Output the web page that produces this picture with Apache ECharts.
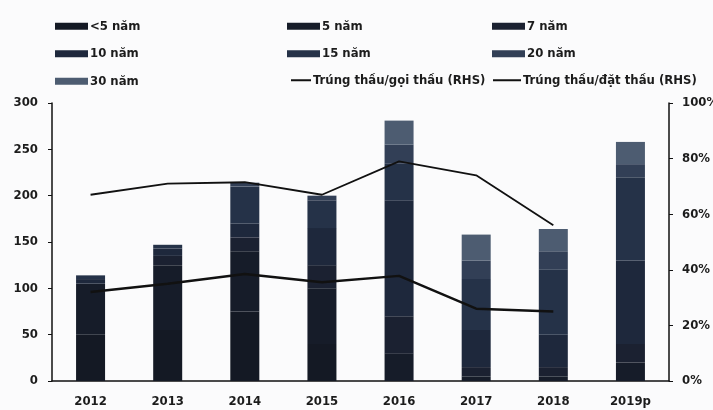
<!DOCTYPE html>
<html>
<head>
<meta charset="utf-8">
<script src="https://cdn.jsdelivr.net/npm/echarts@6/dist/echarts.min.js"></script>
<style>
  html, body { margin: 0; padding: 0; background: #fbfbfc; }
  #chart { width: 713px; height: 410px; }
</style>
</head>
<body>
<div id="chart"></div>
<script>
// Years on the category axis
const years = ['2012', '2013', '2014', '2015', '2016', '2017', '2018', '2019p'];

// Issued volume by tenor (left axis)
const lt5Nam  = [50, 55, 75, 40, 0, 0, 0, 0];
const nam5    = [55, 70, 65, 60, 30, 5, 5, 20];
const nam7    = [0, 10, 15, 25, 40, 10, 10, 20];
const nam10   = [5, 8, 15, 40, 125, 40, 35, 90];
const nam15   = [4, 4, 40, 30, 40, 55, 70, 90];
const nam20   = [0, 0, 4, 5, 20, 20, 20, 14];
const nam30   = [0, 0, 0, 0, 26, 28, 24, 24];

// Ratios in percent (right axis)
const trungGoiThau = [67, 71, 71.5, 67, 79, 74, 56, null];
const trungDatThau = [32, 35, 38.5, 35.5, 37.8, 26, 25, null];

// Axis tick settings
const leftTicks = { min: 0, max: 300, interval: 50 };
const rightTicks = { min: 0, max: 100, interval: 20 };

const FONT = "'Liberation Sans Narrow', 'DejaVu Sans Condensed', 'Liberation Sans', sans-serif";
const TEXT = '#1c1c1c';

const barSeries = [
  ['<5 năm', lt5Nam, '#141924'],
  ['5 năm', nam5, '#161c29'],
  ['7 năm', nam7, '#1b2131'],
  ['10 năm', nam10, '#1e283c'],
  ['15 năm', nam15, '#253248'],
  ['20 năm', nam20, '#323f56'],
  ['30 năm', nam30, '#4d5c71']
].map(([name, data, color]) => ({
  name, type: 'bar', stack: 'kl', data, barWidth: 29,
  itemStyle: { color }
}));

const lineSeries = [
  ['Trúng thầu/gọi thầu (RHS)', trungGoiThau, 1.8],
  ['Trúng thầu/đặt thầu (RHS)', trungDatThau, 2.4]
].map(([name, data, w]) => ({
  name, type: 'line', yAxisIndex: 1, data, symbol: 'none',
  lineStyle: { color: '#111', width: w }, itemStyle: { color: '#111' }
}));

const legendBase = {
  orient: 'vertical', top: 19, padding: 0, itemWidth: 33, itemHeight: 7, itemGap: 13,
  textStyle: { fontFamily: FONT, fontSize: 13, fontWeight: 'bold', color: TEXT, lineHeight: 14.5, padding: [0, 0, 0, -3] }
};
const box = name => ({ name, icon: 'rect' });
// line entries: keep the stroke, hide the marker dot
const stroke = name => ({ name, itemStyle: { opacity: 0 } });

const axisText = { fontFamily: FONT, fontSize: 13, fontWeight: 'bold', color: TEXT };

const chart = echarts.init(document.getElementById('chart'), null, { renderer: 'canvas' });
chart.setOption({
  backgroundColor: '#fbfbfc',
  animation: false,
  legend: [
    Object.assign({}, legendBase, { left: 55, data: [box('<5 năm'), box('10 năm'), box('30 năm')] }),
    Object.assign({}, legendBase, { left: 287, data: [box('5 năm'), box('15 năm')] }),
    Object.assign({}, legendBase, { left: 492, data: [box('7 năm'), box('20 năm')] }),
    Object.assign({}, legendBase, { left: 290, top: 73, itemWidth: 20, data: [stroke('Trúng thầu/gọi thầu (RHS)')] }),
    Object.assign({}, legendBase, { left: 492, top: 73, itemWidth: 28, data: [stroke('Trúng thầu/đặt thầu (RHS)')] })
  ],
  grid: { left: 52, right: 44, top: 103, bottom: 29, outerBoundsMode: 'none', containLabel: false },
  xAxis: {
    type: 'category', data: years,
    axisLine: { lineStyle: { color: '#111', width: 1.5 } },
    axisTick: { show: false },
    axisLabel: Object.assign({ margin: 14 }, axisText)
  },
  yAxis: [
    {
      type: 'value', min: leftTicks.min, max: leftTicks.max, interval: leftTicks.interval,
      axisLine: { show: true, lineStyle: { color: '#111', width: 1.5 } },
      axisTick: { show: true, length: 4, lineStyle: { color: '#111' } },
      splitLine: { show: false },
      axisLabel: Object.assign({ margin: 14 }, axisText)
    },
    {
      type: 'value', min: rightTicks.min, max: rightTicks.max, interval: rightTicks.interval,
      axisLine: { show: true, lineStyle: { color: '#111', width: 1.5 } },
      axisTick: { show: true, length: 4, lineStyle: { color: '#111' } },
      splitLine: { show: false },
      axisLabel: Object.assign({ margin: 13, formatter: '{value}%' }, axisText)
    }
  ],
  series: barSeries.concat(lineSeries)
});
</script>
</body>
</html>
